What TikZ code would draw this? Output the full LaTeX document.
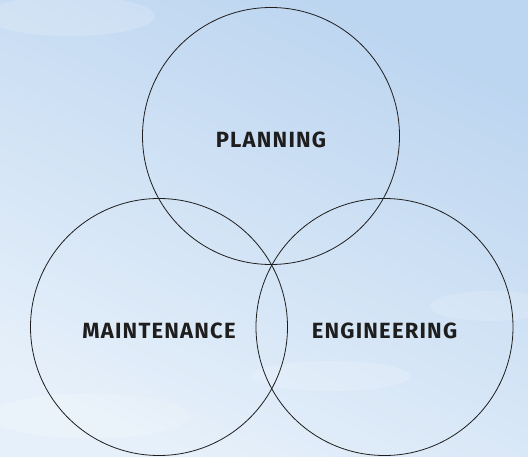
\documentclass[tikz,border=0pt]{standalone}
\usepackage{fontspec}
\newfontfamily\labelfont{Fira Sans}[LetterSpace=5.5]
\usepackage{xcolor}
\usepackage{tikz}
\usetikzlibrary{shapes.geometric, arrows}
\definecolor{skytop}{HTML}{BCD5F0}
\definecolor{skylow}{HTML}{E6F0FA}
\definecolor{inkline}{HTML}{1E1E1E}
\tikzstyle{area} = [circle, minimum size=257pt, inner sep=0pt, draw=inkline, line width=0.8pt,
                    text=inkline, text height=23pt, font=\labelfont\bfseries\fontsize{22}{26}\selectfont]
\tikzstyle{haze} = [ellipse, fill=white, draw=none, opacity=0.16]

\begin{document}
\begin{tikzpicture}[node distance=191pt]

% sky behind the circles
\useasboundingbox (0pt,0pt) rectangle (528pt,456pt);
\clip (0pt,0pt) rectangle (528pt,456pt);
\shade[top color=skytop, bottom color=skylow, shading angle=-25] (0pt,0pt) rectangle (528pt,456pt);
\node (haze1) [haze, minimum width=170pt, minimum height=40pt] at (70pt,440pt) {};
\node (haze2) [haze, minimum width=200pt, minimum height=45pt] at (90pt,40pt) {};
\node (haze3) [haze, minimum width=120pt, minimum height=30pt] at (490pt,150pt) {};
\node (haze4) [haze, minimum width=160pt, minimum height=30pt] at (330pt,80pt) {};

\node (plan) [area] at (271pt,320pt) {PLANNING};
\node (maint) [area, below of=plan, xshift=-112pt] {MAINTENANCE};
\node (eng) [area, below of=plan, xshift=113.5pt] {ENGINEERING};

\end{tikzpicture}
\end{document}
